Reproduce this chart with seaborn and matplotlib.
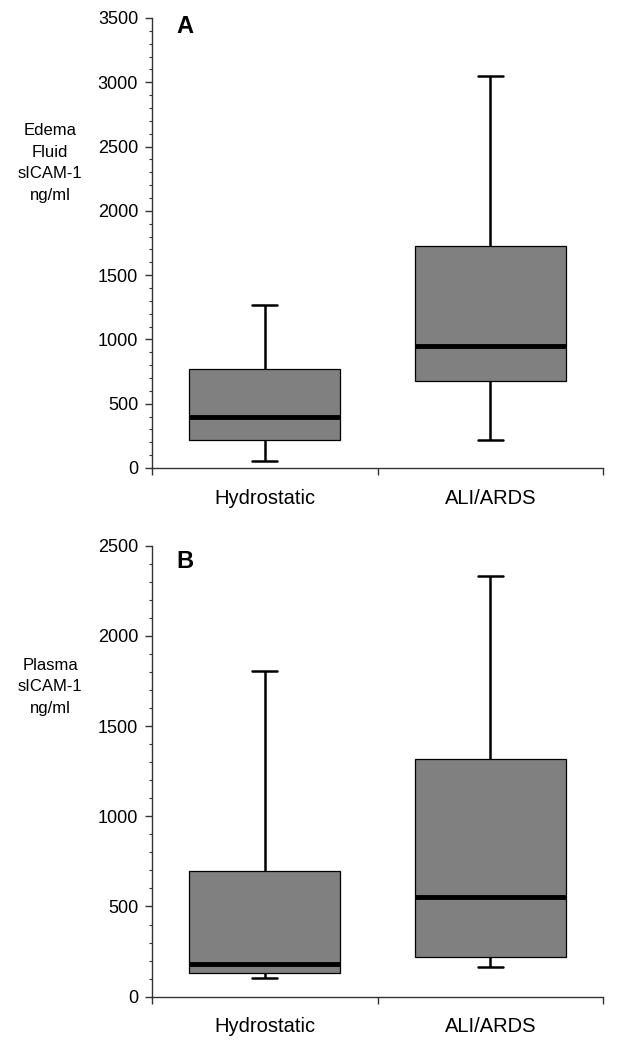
import pandas as pd
import seaborn as sns
import matplotlib.pyplot as plt
from matplotlib.ticker import MultipleLocator

groups = ["Hydrostatic", "ALI/ARDS"]

# five-number summaries: min, q1, median, q3, max
edema_hydro = [55, 218, 397, 770, 1268]
edema_ali = [218, 676, 950, 1726, 3050]
plasma_hydro = [105, 131, 181, 697, 1805]
plasma_ali = [166, 222, 553, 1320, 2333]

edema = pd.DataFrame({"group": [groups[0]] * 5 + [groups[1]] * 5,
                      "value": edema_hydro + edema_ali})
plasma = pd.DataFrame({"group": [groups[0]] * 5 + [groups[1]] * 5,
                       "value": plasma_hydro + plasma_ali})

sns.set_style("ticks")
plt.rcParams["font.family"] = ["Liberation Sans", "DejaVu Sans"]
plt.rcParams["text.color"] = "black"
plt.rcParams["xtick.labelcolor"] = "black"
plt.rcParams["ytick.labelcolor"] = "black"
plt.rcParams["axes.labelcolor"] = "black"

fig = plt.figure(figsize=(6.17, 10.5), dpi=100)
ax_a = fig.add_axes([0.2464, 0.5543, 0.731, 0.4286])
ax_b = fig.add_axes([0.2464, 0.0508, 0.731, 0.4295])

panels = [
    (ax_a, edema, 3500, "Edema\nFluid\nsICAM-1\nng/ml", "A", 0.678, 0.98),
    (ax_b, plasma, 2500, "Plasma\nsICAM-1\nng/ml", "B", 0.687, 0.964),
]

for ax, df, ymax, ylab, letter, ly, ty in panels:
    sns.boxplot(data=df, x="group", y="value", order=groups, whis=(0, 100),
                width=0.67, color="#808080", saturation=1, linecolor="black",
                linewidth=0.9, capwidths=0.11,
                medianprops=dict(linewidth=3.5, color="black"),
                whiskerprops=dict(linewidth=1.8, color="black"),
                capprops=dict(linewidth=1.8, color="black"),
                ax=ax)
    ax.set_xlim(-0.5, 1.5)
    ax.set_ylim(0, ymax)
    ax.yaxis.set_major_locator(MultipleLocator(500))
    ax.yaxis.set_minor_locator(MultipleLocator(100))
    ax.set_xticks([-0.5, 0.5, 1.5], labels=["", "", ""])
    ax.set_xticks([0, 1], labels=groups, minor=True)
    ax.tick_params(axis="x", which="major", length=5, width=1, color="#333333")
    ax.tick_params(axis="x", which="minor", length=0, pad=15, labelsize=14.5)
    ax.tick_params(axis="y", which="major", length=5, width=1, color="#333333",
                   pad=5, labelsize=13)
    ax.tick_params(axis="y", which="minor", length=2.5, width=0.8, color="#333333")
    ax.set_xlabel("")
    ax.set_ylabel(ylab, rotation=0, ha="center", va="center", fontsize=12,
                  linespacing=1.55)
    ax.yaxis.set_label_coords(-0.226, ly)
    ax.text(0.073, ty, letter, transform=ax.transAxes, fontsize=17,
            fontweight="bold", ha="center", va="center")
    for side in ["left", "bottom"]:
        ax.spines[side].set_color("#333333")
        ax.spines[side].set_linewidth(1)
    sns.despine(ax=ax)

fig.savefig("out.png", dpi=100)
